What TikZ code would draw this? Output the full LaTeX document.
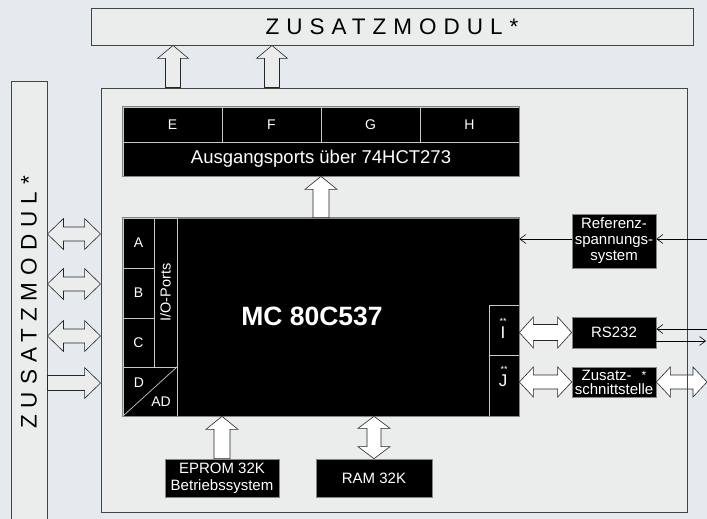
\documentclass[tikz,border=0pt]{standalone}
\usepackage{fontspec}
\setmainfont{Liberation Sans}
\newfontfamily\spacedfont[LetterSpace=31]{Liberation Sans}
\usetikzlibrary{arrows.meta,calc}
\definecolor{bgc}{HTML}{E5EAEE}
\definecolor{boxc}{HTML}{EBECEC}
\definecolor{edgec}{HTML}{444444}
\definecolor{blkedge}{HTML}{858585}
\definecolor{divc}{HTML}{C8C8C8}
% horizontal double fat arrow: [style]{left}{right}{shaft half}{head half}{head length}
\newcommand{\fatDblH}[6][]{\path[fatarrow,#1] let \p1=(#2), \p2=(#3) in
  (\x1,\y1) -- (\x1+#6pt,\y1+#5pt) -- (\x1+#6pt,\y1+#4pt) -- (\x2-#6pt,\y1+#4pt) -- (\x2-#6pt,\y1+#5pt)
  -- (\x2,\y1) -- (\x2-#6pt,\y1-#5pt) -- (\x2-#6pt,\y1-#4pt) -- (\x1+#6pt,\y1-#4pt) -- (\x1+#6pt,\y1-#5pt) -- cycle;}
% horizontal single fat arrow pointing right
\newcommand{\fatRight}[6][]{\path[fatarrow,#1] let \p1=(#2), \p2=(#3) in
  (\x1,\y1+#4pt) -- (\x2-#6pt,\y1+#4pt) -- (\x2-#6pt,\y1+#5pt) -- (\x2,\y1)
  -- (\x2-#6pt,\y1-#5pt) -- (\x2-#6pt,\y1-#4pt) -- (\x1,\y1-#4pt) -- cycle;}
% vertical single fat arrow pointing up: {tail(bottom)}{tip(top)}
\newcommand{\fatUp}[6][]{\path[fatarrow,#1] let \p1=(#2), \p2=(#3) in
  (\x1-#4pt,\y1) -- (\x1-#4pt,\y2-#6pt) -- (\x1-#5pt,\y2-#6pt) -- (\x1,\y2)
  -- (\x1+#5pt,\y2-#6pt) -- (\x1+#4pt,\y2-#6pt) -- (\x1+#4pt,\y1) -- cycle;}
% vertical double fat arrow: {bottom}{top}
\newcommand{\fatDblV}[6][]{\path[fatarrow,#1] let \p1=(#2), \p2=(#3) in
  (\x1,\y1) -- (\x1+#5pt,\y1+#6pt) -- (\x1+#4pt,\y1+#6pt) -- (\x1+#4pt,\y2-#6pt) -- (\x1+#5pt,\y2-#6pt)
  -- (\x1,\y2) -- (\x1-#5pt,\y2-#6pt) -- (\x1-#4pt,\y2-#6pt) -- (\x1-#4pt,\y1+#6pt) -- (\x1-#5pt,\y1+#6pt) -- cycle;}
\begin{document}
\begin{tikzpicture}[x=1pt,y=-1pt,
  lightbox/.style={draw=edgec,fill=boxc,line width=0.9pt,inner sep=0pt},
  blk/.style={fill=black,draw=blkedge,line width=0.7pt,text=white,inner sep=0pt,align=center,
    font=\fontsize{15}{16}\selectfont},
  cell/.style={blk,draw=divc},
  wtxt/.style={text=white,inner sep=0pt},
  fatarrow/.style={draw=black!85,fill=white,line width=0.6pt,line join=miter},
  fatgrey/.style={fill=boxc},
  thinarr/.style={draw=black,line width=0.6pt,-{Straight Barb[length=6pt,width=9pt]}}]

\fill[bgc] (0,0) rectangle (707,519);
\useasboundingbox (0,0) rectangle (707,519);

% modules
\node[lightbox,minimum width=602,minimum height=37] (topmod) at (392,26.5)
  {\spacedfont\fontsize{22.5}{24}\selectfont ZUSATZMODUL*};
\node[lightbox,minimum width=36,minimum height=441] (leftmod) at (29,301.5) {};
\node[rotate=90,inner sep=0pt] (leftmodtext) at (29,302.5)
  {\spacedfont\fontsize{22.5}{24}\selectfont ZUSATZMODUL*};
\node[lightbox,minimum width=586,minimum height=424] (main) at (394,300) {};

% output ports
\node[cell,minimum width=99,minimum height=35,font=\fontsize{14}{15}\selectfont] (pE) at (172.5,124.5) {E};
\node[cell,minimum width=99,minimum height=35,font=\fontsize{14}{15}\selectfont] (pF) at (271.5,124.5) {F};
\node[cell,minimum width=99,minimum height=35,font=\fontsize{14}{15}\selectfont] (pG) at (370.5,124.5) {G};
\node[cell,minimum width=99,minimum height=35,font=\fontsize{14}{15}\selectfont] (pH) at (469.5,124.5) {H};
\node[cell,minimum width=396,minimum height=34,font=\fontsize{18.5}{20}\selectfont] (outp) at (321,159)
  {Ausgangsports über 74HCT273};
\draw[blkedge,line width=0.7pt] (pE.north west) rectangle (outp.south east);

% microcontroller
\node[blk,minimum width=396,minimum height=198] (mcu) at (321,317) {};
\node[wtxt,font=\bfseries\fontsize{26.5}{28}\selectfont] (mctext) at (312,316) {MC 80C537};
\node[cell,minimum width=31,minimum height=50,font=\fontsize{14}{15}\selectfont] (pA) at (138.5,243) {A};
\node[cell,minimum width=31,minimum height=50,font=\fontsize{14}{15}\selectfont] (pB) at (138.5,293) {B};
\node[cell,minimum width=31,minimum height=49,font=\fontsize{14}{15}\selectfont] (pC) at (138.5,342.5) {C};
\node[cell,minimum width=149,minimum height=23,rotate=90,font=\fontsize{14.5}{15}\selectfont] (io) at (165.5,292.5) {I/O-Ports};
\node[cell,minimum width=54,minimum height=49] (dad) at (150,391.5) {};
\draw[divc,line width=0.7pt] (dad.south west) -- (dad.north east);
\node[wtxt,font=\fontsize{14}{15}\selectfont] (dtext) at (139,383) {D};
\node[wtxt,font=\fontsize{14}{15}\selectfont] (adtext) at (161,402) {AD};
\node[cell,minimum width=30,minimum height=50] (pI) at (504,330) {};
\node[wtxt,font=\fontsize{17}{18}\selectfont] (itext) at (503,333) {I};
\node[wtxt,font=\fontsize{9}{9}\selectfont] (istar) at (503,321) {**};
\node[cell,minimum width=30,minimum height=61] (pJ) at (504,385.5) {};
\node[wtxt,font=\fontsize{17}{18}\selectfont] (jtext) at (503,381) {J};
\node[wtxt,font=\fontsize{9}{9}\selectfont] (jstar) at (504,369) {**};
\draw[blkedge,line width=0.7pt] (mcu.north west) rectangle (mcu.south east);

% peripherals
\node[blk,minimum width=84,minimum height=54] (ref) at (614,241) {Referenz-\\spannungs-\\system};
\node[blk,minimum width=84,minimum height=31] (rs) at (614,332.5) {RS232};
\node[blk,minimum width=84,minimum height=30,font=\fontsize{15}{14}\selectfont] (zus) at (614,382)
  {Zusatz-\hspace{10pt}\raisebox{1pt}{\fontsize{12}{12}\selectfont *}\\schnittstelle};
\node[blk,minimum width=114,minimum height=38,font=\fontsize{15}{17}\selectfont] (eprom) at (222,478)
  {EPROM 32K\\Betriebssystem};
\node[blk,minimum width=116,minimum height=38] (ram) at (374,478) {RAM 32K};

% fat arrows
\fatUp[fatgrey]{main.north -| 173,0}{topmod.south -| 173,0}{7.5}{15.5}{13}
\fatUp[fatgrey]{main.north -| 272,0}{topmod.south -| 272,0}{7.5}{15.5}{13}
\fatUp{mcu.north -| 321,0}{outp.south -| 321,0}{8}{16}{13}
\fatUp{eprom.north}{mcu.south -| eprom.north}{8}{16}{13}
\fatDblV{ram.north}{mcu.south -| ram.north}{7}{16}{12}
\fatDblH[fatgrey]{leftmod.east |- 0,234}{main.west |- 0,234}{7}{15.5}{16}
\fatDblH[fatgrey]{leftmod.east |- 0,284}{main.west |- 0,284}{7}{15.5}{16}
\fatDblH[fatgrey]{leftmod.east |- 0,336}{main.west |- 0,336}{7}{15.5}{16}
\fatRight[fatgrey]{leftmod.east |- 0,383}{main.west |- 0,383}{7.5}{15.5}{16}
\fatDblH{mcu.east |- rs.west}{rs.west}{8}{15.5}{14}
\fatDblH{mcu.east |- zus.west}{zus.west}{7}{15}{14}
\coordinate (zr) at (707,382);
\fatDblH{zus.east}{zr}{7}{15}{14}
\draw[edgec,line width=0.9pt] (main.north east) -- (main.south east);

% thin connectors
\coordinate (refR) at (707,239);
\draw[thinarr] (refR) -- (ref.east |- refR);
\draw[thinarr] (ref.west |- refR) -- (mcu.east |- refR);
\coordinate (rsR1) at (707,329);
\coordinate (rsR2) at (706,341);
\draw[thinarr] (rsR1) -- (rs.east |- rsR1);
\draw[thinarr] (rs.east |- rsR2) -- (rsR2);
\end{tikzpicture}
\end{document}
